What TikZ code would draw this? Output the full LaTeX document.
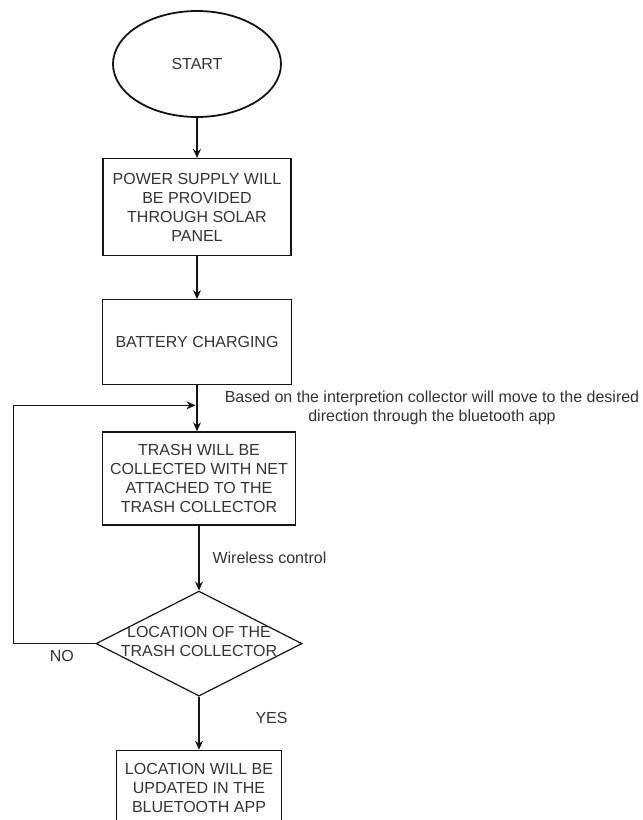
\documentclass[tikz,border=0pt]{standalone}
\usepackage{fontspec}
\setmainfont{Liberation Sans}
\usepackage{xcolor}
\usepackage{tikz}
\usetikzlibrary{shapes.geometric, arrows.meta, positioning, calc}
\definecolor{linecolor}{RGB}{20, 20, 20}
\definecolor{textcolor}{RGB}{51, 51, 51}

\begin{document}
\begin{tikzpicture}[
        x=1pt, y=1pt,
        node distance=40pt,
        every node/.style={font=\fontsize{16pt}{19pt}\selectfont, text=textcolor},
        terminal/.style={ellipse, draw=linecolor, line width=1.8pt, minimum width=168pt, minimum height=106pt, inner sep=0pt},
        flowstep/.style={rectangle, draw=linecolor, line width=1.2pt, align=center, inner sep=0pt},
        decision/.style={diamond, draw=linecolor, line width=1.2pt, minimum width=206pt, minimum height=105pt, inner sep=0pt, aspect=2},
        edgelabel/.style={inner sep=0pt, align=center},
        arrow/.style={line width=1.1pt, linecolor, -{Stealth[length=9pt, width=8pt]}}
    ]
        \useasboundingbox (0,0) rectangle (643,-820);

        % Flow steps
        \node (start) [terminal] at (197,-64) {START};
        \node (power) [flowstep, below=40pt of start, minimum width=188pt, minimum height=97pt] {POWER SUPPLY WILL\\BE PROVIDED\\THROUGH SOLAR\\PANEL};
        \node (battery) [flowstep, below=43pt of power, minimum width=189pt, minimum height=85pt] {BATTERY CHARGING};
        \node (trash) [flowstep, below=46pt of battery, xshift=2pt, minimum width=193pt, minimum height=93pt] {TRASH WILL BE\\COLLECTED WITH NET\\ATTACHED TO THE\\TRASH COLLECTOR};
        \node (check) [decision, below=65pt of trash] {\makebox[0pt]{\begin{tabular}{@{}c@{}}LOCATION OF THE\\TRASH COLLECTOR\end{tabular}}};
        \node (update) [flowstep, below=53pt of check, minimum width=165pt, minimum height=75pt] {LOCATION WILL BE\\UPDATED IN THE\\BLUETOOTH APP};

        % Arrows
        \draw [arrow] (start) -- (power);
        \draw [arrow] (power) -- (battery);
        \draw [arrow] (battery) -- (battery.south |- trash.north);
        \draw [arrow] (trash) -- node[right=13pt, edgelabel] {Wireless control} (check);
        \draw [arrow] (check) -- node[pos=0.4, right=56pt, edgelabel] {YES} (update);

        % Loop back
        \coordinate (merge) at ($(battery.south)+(0,-20)$);
        \coordinate (corner) at ($(check.west)+(-82,0)$);
        \draw [arrow, shorten >=1.5pt] (check.west) -- node[pos=0.41, below=6pt, edgelabel] {NO} (corner) |- (merge);
        \node (hint) [edgelabel] at (432,-407.5) {Based on the interpretion collector will move to the desired\\direction through the bluetooth app};
    \end{tikzpicture}
\end{document}
